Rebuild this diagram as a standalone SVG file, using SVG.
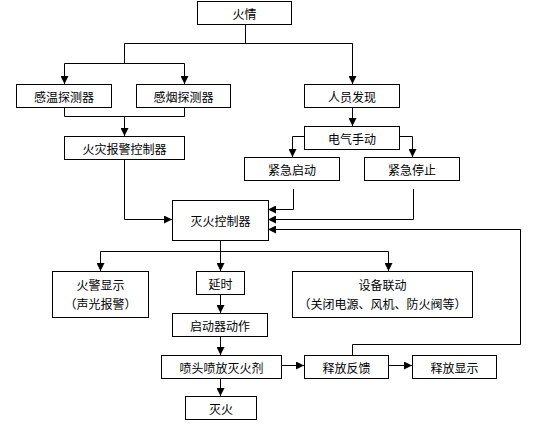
<svg xmlns="http://www.w3.org/2000/svg" width="533" height="427" viewBox="0 0 533 427">
<style>
.n rect{fill:#fff;stroke:#000;stroke-width:1}
.n text{font-family:"Noto Sans CJK SC","Liberation Sans",sans-serif;font-size:12px;fill:#000;text-anchor:middle;dominant-baseline:central}
#edges path{fill:none;stroke:#000;stroke-width:1}
#edges path.a{marker-end:url(#ah)}
</style>
<defs>
<marker id="ah" markerUnits="userSpaceOnUse" markerWidth="8" markerHeight="8" refX="8" refY="4" orient="auto">
<path d="M0,0 L8,4 L0,8 z" fill="#000"/>
</marker>
</defs>
<rect width="533" height="427" fill="#fff"/>
<g id="edges">
<path d="M245.5,24 V43.5"/>
<path d="M124.5,43.5 H352.5"/>
<path class="a" d="M352.5,43.5 V84"/>
<path d="M124.5,43.5 V63.5"/>
<path d="M64.5,63.5 H184.5"/>
<path class="a" d="M64.5,63.5 V84"/>
<path class="a" d="M184.5,63.5 V84"/>
<path d="M64.5,107 V116.5 H184.5 V107"/>
<path class="a" d="M124.5,116.5 V136"/>
<path class="a" d="M124.5,159 V219.5 H172"/>
<path class="a" d="M352.5,107 V126"/>
<path class="a" d="M304,136.5 H292.5 V157"/>
<path class="a" d="M399,136.5 H412.5 V157"/>
<path class="a" d="M293.5,189 V209.5 H268"/>
<path class="a" d="M413.5,189 V219.5 H268"/>
<path class="a" d="M352.5,355 V344.5 H520.5 V229.5 H268"/>
<path class="a" d="M220.5,240 V271"/>
<path d="M100.5,251.5 H388.5"/>
<path class="a" d="M100.5,251.5 V271"/>
<path class="a" d="M388.5,251.5 V271"/>
<path class="a" d="M220.5,294 V313"/>
<path class="a" d="M220.5,336 V355"/>
<path class="a" d="M220.5,378 V396"/>
<path class="a" d="M281,365.5 H304"/>
<path class="a" d="M388,365.5 H412"/>
</g>
<g id="n_huoqing" class="n"><rect x="197.5" y="1.5" width="94" height="23"/><text x="244.5" y="13">火情</text></g>
<g id="n_ganwen" class="n"><rect x="16.5" y="84.5" width="95" height="23"/><text x="64" y="96">感温探测器</text></g>
<g id="n_ganyan" class="n"><rect x="136.5" y="84.5" width="94" height="23"/><text x="183.5" y="96">感烟探测器</text></g>
<g id="n_renyuan" class="n"><rect x="304.5" y="84.5" width="95" height="23"/><text x="352" y="96">人员发现</text></g>
<g id="n_huozai" class="n"><rect x="64.5" y="136.5" width="120" height="23"/><text x="124.5" y="148">火灾报警控制器</text></g>
<g id="n_dianqi" class="n"><rect x="304.5" y="126.5" width="95" height="23"/><text x="352" y="138">电气手动</text></g>
<g id="n_jinjiqd" class="n"><rect x="244.5" y="157.5" width="95" height="23"/><text x="292" y="169">紧急启动</text></g>
<g id="n_jinjitz" class="n"><rect x="364.5" y="157.5" width="95" height="23"/><text x="412" y="169">紧急停止</text></g>
<g id="n_miehuokz" class="n"><rect x="172.5" y="200.5" width="96" height="40"/><text x="220.5" y="220">灭火控制器</text></g>
<g id="n_huojing" class="n"><rect x="52.5" y="271.5" width="96" height="46"/><text x="100.5" y="284">火警显示</text><text x="100.5" y="303">（声光报警）</text></g>
<g id="n_yanshi" class="n"><rect x="196.5" y="271.5" width="48" height="23"/><text x="220.5" y="283">延时</text></g>
<g id="n_shebei" class="n"><rect x="292.5" y="271.5" width="180" height="46"/><text x="382.5" y="284">设备联动</text><text x="382.5" y="303">（关闭电源、风机、防火阀等）</text></g>
<g id="n_qidongqi" class="n"><rect x="172.5" y="313.5" width="95" height="23"/><text x="220" y="325">启动器动作</text></g>
<g id="n_pentou" class="n"><rect x="161.5" y="355.5" width="120" height="23"/><text x="221.5" y="367">喷头喷放灭火剂</text></g>
<g id="n_shifangfk" class="n"><rect x="304.5" y="355.5" width="84" height="23"/><text x="346.5" y="367">释放反馈</text></g>
<g id="n_shifangxs" class="n"><rect x="412.5" y="355.5" width="84" height="23"/><text x="454.5" y="367">释放显示</text></g>
<g id="n_miehuo" class="n"><rect x="185.5" y="396.5" width="71" height="23"/><text x="221" y="408">灭火</text></g>
</svg>
